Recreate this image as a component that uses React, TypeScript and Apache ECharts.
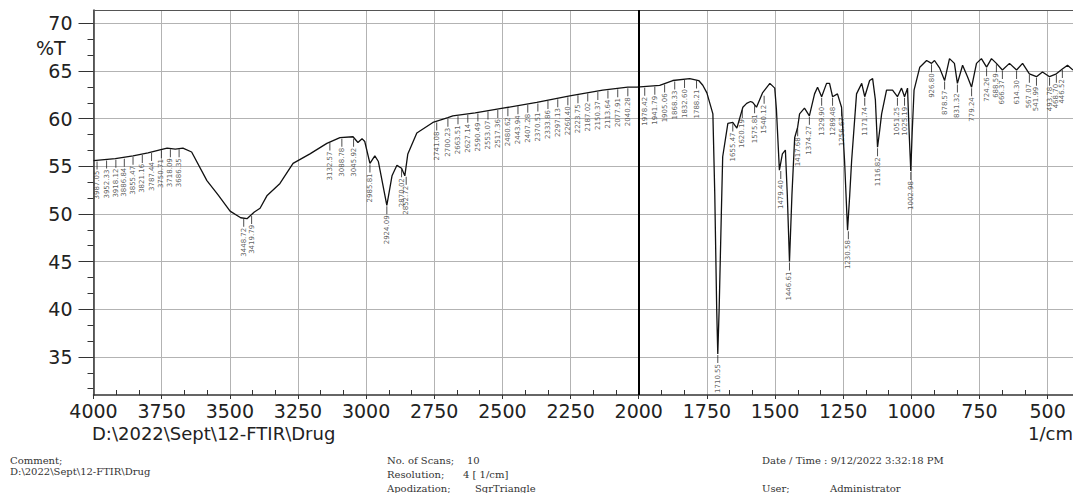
import React, { useEffect, useRef } from "react";
import * as echarts from "echarts";

// Spectrum (wavenumber 1/cm, %T)
const wavenumber = [
  4000, 3960, 3920, 3855, 3800, 3760, 3730, 3700, 3672, 3640, 3584, 3543, 3499, 3460, 3437, 3410, 3389, 3364, 3316, 3268,
  3206, 3144, 3096, 3048, 3030, 3015, 3005, 2986, 2968, 2955, 2924, 2905, 2887, 2870, 2858, 2847, 2814, 2755, 2700, 2682,
  2600, 2498, 2374, 2253, 2132, 2040, 2007, 1923, 1875, 1813, 1780, 1765, 1750, 1739, 1728, 1721, 1714, 1710, 1705, 1697,
  1692, 1673, 1655, 1640, 1618, 1604, 1590, 1582, 1568, 1546, 1519, 1501, 1495, 1484, 1473, 1462, 1455, 1447, 1438, 1428,
  1417, 1410, 1392, 1374, 1355, 1344, 1329, 1311, 1300, 1289, 1271, 1256, 1245, 1234, 1226, 1219, 1201, 1182, 1171, 1153,
  1142, 1132, 1124, 1116, 1109, 1091, 1069, 1051, 1036, 1025, 1014, 1008, 1002, 997, 990, 969, 944, 926, 915, 896,
  878, 860, 842, 831, 812, 794, 779, 761, 743, 724, 706, 688, 666, 640, 614, 592, 567, 541, 519, 493,
  468, 446, 427, 407,
];
const transmittance = [
  55.6, 55.7, 55.8, 56.1, 56.4, 56.7, 56.9, 56.8, 56.9, 56.5, 53.5, 52.0, 50.3, 49.6, 49.5, 50.2, 50.6, 51.9, 53.2, 55.3,
  56.3, 57.4, 58.0, 58.1, 57.5, 57.9, 57.6, 55.3, 56.1, 55.5, 50.9, 54.0, 55.1, 54.8, 54.0, 56.3, 58.5, 59.6, 60.1, 60.3,
  60.6, 61.1, 61.7, 62.4, 63.0, 63.3, 63.3, 63.5, 64.0, 64.2, 64.0, 63.5, 62.7, 61.6, 60.5, 52.0, 40.0, 35.3, 40.0, 50.0,
  56.0, 59.5, 59.6, 59.0, 61.2, 61.6, 61.8, 61.7, 61.2, 62.7, 63.7, 63.2, 61.0, 54.6, 56.3, 56.7, 52.0, 45.0, 52.0, 58.0,
  59.1, 60.5, 61.1, 60.3, 62.6, 63.3, 62.3, 63.7, 63.7, 62.3, 62.6, 61.2, 55.6, 48.3, 52.0, 55.6, 62.6, 63.7, 62.3, 64.0,
  64.2, 62.0, 57.0, 58.8, 60.5, 63.0, 63.0, 62.3, 63.2, 62.3, 63.2, 58.5, 54.5, 58.5, 63.0, 65.4, 66.1, 65.8, 66.1, 65.3,
  64.0, 66.3, 65.8, 63.7, 65.6, 64.4, 63.3, 65.8, 66.3, 65.4, 66.3, 65.8, 65.1, 65.8, 65.1, 65.8, 64.7, 64.4, 64.9, 64.4,
  64.7, 65.2, 65.6, 65.1,
];

// Peak picks (positions estimated; printed labels are illegible in the reference)
const peakWavenumber = [
  3987, 3952, 3918, 3887, 3855, 3821, 3787, 3751, 3718, 3686, 3449, 3420, 3133, 3089, 3046, 2986, 2924, 2870, 2853,
  2741, 2700, 2663, 2627, 2590, 2553, 2517, 2480, 2443, 2407, 2370, 2333, 2297, 2260, 2223, 2187, 2150, 2113, 2077, 2040,
  1978, 1941, 1905, 1868, 1832, 1788,
  1710, 1655, 1620, 1575, 1540, 1479, 1447, 1417, 1374, 1329, 1289, 1256, 1231, 1171, 1124, 1051, 1025, 1002,
  926, 878, 831, 779, 724, 688, 666, 614, 567, 541, 493, 468, 446,
];
const peakT = [
  55.6, 55.7, 55.8, 55.9, 56.1, 56.3, 56.5, 56.8, 56.9, 56.9, 49.6, 49.9, 57.6, 58.0, 58.0, 55.3, 50.9, 54.8, 54.0,
  59.7, 60.1, 60.35, 60.5, 60.65, 60.85, 61.0, 61.2, 61.4, 61.55, 61.7, 61.95, 62.15, 62.35, 62.55, 62.75, 62.9, 63.05, 63.2, 63.3,
  63.35, 63.45, 63.7, 64.0, 64.15, 64.1,
  35.3, 59.6, 61.0, 61.5, 62.5, 54.6, 45.0, 59.1, 60.3, 62.3, 62.3, 61.2, 48.3, 62.3, 57.0, 62.3, 62.3, 54.5,
  65.8, 64.0, 63.7, 63.3, 65.4, 65.8, 65.1, 65.1, 64.7, 64.4, 64.4, 64.7, 65.2,
];
const peakLabels = [
  "3987.05", "3952.33", "3918.12", "3886.84", "3855.47", "3821.16", "3787.44", "3750.71", "3718.09", "3686.35",
  "3448.72", "3419.79", "3132.57", "3088.78", "3045.92", "2985.81", "2924.09", "2870.02", "2852.72",
  "2741.08", "2700.23", "2663.51", "2627.14", "2590.49", "2553.07", "2517.36", "2480.62", "2443.94", "2407.28",
  "2370.51", "2333.86", "2297.13", "2260.40", "2223.75", "2187.02", "2150.37", "2113.64", "2077.91", "2040.28",
  "1978.42", "1941.79", "1905.06", "1868.33", "1832.60", "1788.21",
  "1710.55", "1655.47", "1620.19", "1575.81", "1540.12", "1479.40", "1446.61", "1417.68", "1374.27", "1329.90",
  "1289.48", "1256.67", "1230.58", "1171.74", "1116.82", "1051.25", "1025.19", "1002.98",
  "926.80", "878.57", "831.32", "779.24", "724.26", "688.59", "666.37", "614.30", "567.07", "541.99", "493.78",
  "468.70", "446.52",
];

const xMajorTicks = [4000, 3750, 3500, 3250, 3000, 2750, 2500, 2250, 2000, 1750, 1500, 1250, 1000, 750, 500];
const xMinorTicks: number[] = [];
for (let i = 0; i < xMajorTicks.length - 1; i++) {
  xMinorTicks.push(xMajorTicks[i] - 250 / 3, xMajorTicks[i] - 500 / 3);
}
const yMajorTicks = [35, 40, 45, 50, 55, 60, 65, 70];
const yMinorTicks = [31.667, 33.333, 36.667, 38.333, 41.667, 43.333, 46.667, 48.333, 51.667, 53.333, 56.667, 58.333, 61.667, 63.333, 66.667, 68.333];

const FONT = "DejaVu Sans";
const SERIF = "DejaVu Serif";

export default function App() {
  const ref = useRef<HTMLDivElement>(null);
  useEffect(() => {
    const chart = echarts.init(ref.current!, null, { renderer: "svg" });
    const spectrum = wavenumber.map((w, i) => [w, transmittance[i]]);
    const peaks = peakWavenumber.map((w, i) => [w, peakT[i]]);
    const footer = (text: string, x: number, y: number) => ({
      type: "text",
      x,
      y,
      style: { text, fontFamily: SERIF, fontSize: 10, fill: "#333", align: "left", verticalAlign: "middle" },
    });
    chart.setOption({
      animation: false,
      backgroundColor: "#ffffff",
      grid: { left: 93.5, top: 10, right: 0, bottom: 98, containLabel: false },
      xAxis: [
        {
          type: "value",
          min: 407,
          max: 4000,
          inverse: true,
          position: "bottom",
          axisLine: { show: true, lineStyle: { color: "#333", width: 1.5 } },
          axisTick: { show: true, customValues: xMajorTicks, inside: false, length: 4, lineStyle: { color: "#333" } },
          axisLabel: {
            customValues: xMajorTicks,
            formatter: (v: number) => String(v),
            fontFamily: FONT,
            fontSize: 19,
            lineHeight: 18,
            color: "#222",
            margin: 7,
          },
          splitLine: { show: true, lineStyle: { color: "#b3b3b3", width: 1 } },
        },
        {
          type: "value",
          min: 407,
          max: 4000,
          inverse: true,
          position: "bottom",
          axisLine: { show: false },
          axisTick: { show: true, customValues: xMinorTicks, inside: true, length: 5, lineStyle: { color: "#333" } },
          axisLabel: { show: false },
          splitLine: { show: false },
        },
        {
          type: "value",
          min: 407,
          max: 4000,
          inverse: true,
          position: "top",
          axisLine: { show: true, lineStyle: { color: "#555", width: 1.2 } },
          axisTick: { show: false },
          axisLabel: { show: false },
          splitLine: { show: false },
        },
      ],
      yAxis: [
        {
          type: "value",
          min: 31,
          max: 71.4,
          position: "left",
          axisLine: { show: true, lineStyle: { color: "#333", width: 1.5 } },
          axisTick: { show: true, customValues: yMajorTicks, length: 15, lineStyle: { color: "#333" } },
          axisLabel: {
            customValues: yMajorTicks,
            formatter: (v: number) => String(v),
            fontFamily: FONT,
            fontSize: 19,
            color: "#222",
            margin: 21,
          },
          splitLine: { show: true, lineStyle: { color: "#b3b3b3", width: 1 } },
        },
        {
          type: "value",
          min: 31,
          max: 71.4,
          position: "left",
          axisLine: { show: false },
          axisTick: { show: true, customValues: yMinorTicks, length: 6, lineStyle: { color: "#333" } },
          axisLabel: { show: false },
          splitLine: { show: false },
        },
      ],
      series: [
        {
          type: "line",
          xAxisIndex: 0,
          yAxisIndex: 0,
          data: spectrum,
          showSymbol: false,
          lineStyle: { color: "#111", width: 1.3 },
          markLine: {
            silent: true,
            symbol: "none",
            label: { show: false },
            lineStyle: { color: "#000", width: 2, type: "solid" },
            data: [{ xAxis: 2000 }],
          },
        },
        {
          type: "scatter",
          xAxisIndex: 0,
          yAxisIndex: 0,
          data: peaks,
          symbol: "rect",
          symbolSize: [1, 8],
          symbolOffset: [0, 5],
          itemStyle: { color: "#222" },
          label: {
            show: true,
            formatter: (p: any) => peakLabels[p.dataIndex],
            position: "bottom",
            distance: 1,
            rotate: 90,
            align: "right",
            verticalAlign: "middle",
            fontFamily: FONT,
            fontSize: 7,
            color: "#333",
          },
        },
      ],
      graphic: [
        { type: "text", x: 36, y: 48, style: { text: "%T", fontFamily: FONT, fontSize: 19, fill: "#222", align: "left", verticalAlign: "middle" } },
        { type: "text", x: 92, y: 433, style: { text: "D:\\2022\\Sept\\12-FTIR\\Drug", fontFamily: FONT, fontSize: 18, lineHeight: 18, fill: "#222", align: "left", verticalAlign: "middle" } },
        { type: "text", x: 1073, y: 433, style: { text: "1/cm", fontFamily: FONT, fontSize: 18, lineHeight: 18, fill: "#222", align: "right", verticalAlign: "middle" } },
        footer("Comment;", 10, 460),
        footer("D:\\2022\\Sept\\12-FTIR\\Drug", 10, 471),
        footer("No. of Scans;", 387, 460),
        footer("10", 467, 460),
        footer("Resolution;", 387, 474),
        footer("4 [ 1/cm]", 463, 474),
        footer("Apodization;", 387, 488),
        footer("SqrTriangle", 475, 488),
        footer("Date / Time : 9/12/2022 3:32:18 PM", 762, 460),
        footer("User;", 762, 488),
        footer("Administrator", 830, 488),
      ],
    });
    return () => chart.dispose();
  }, []);
  return (
    <div
      ref={ref}
      style={{ position: "fixed", left: 0, top: 0, width: 1073, height: 493, background: "#fff" }}
    />
  );
}
